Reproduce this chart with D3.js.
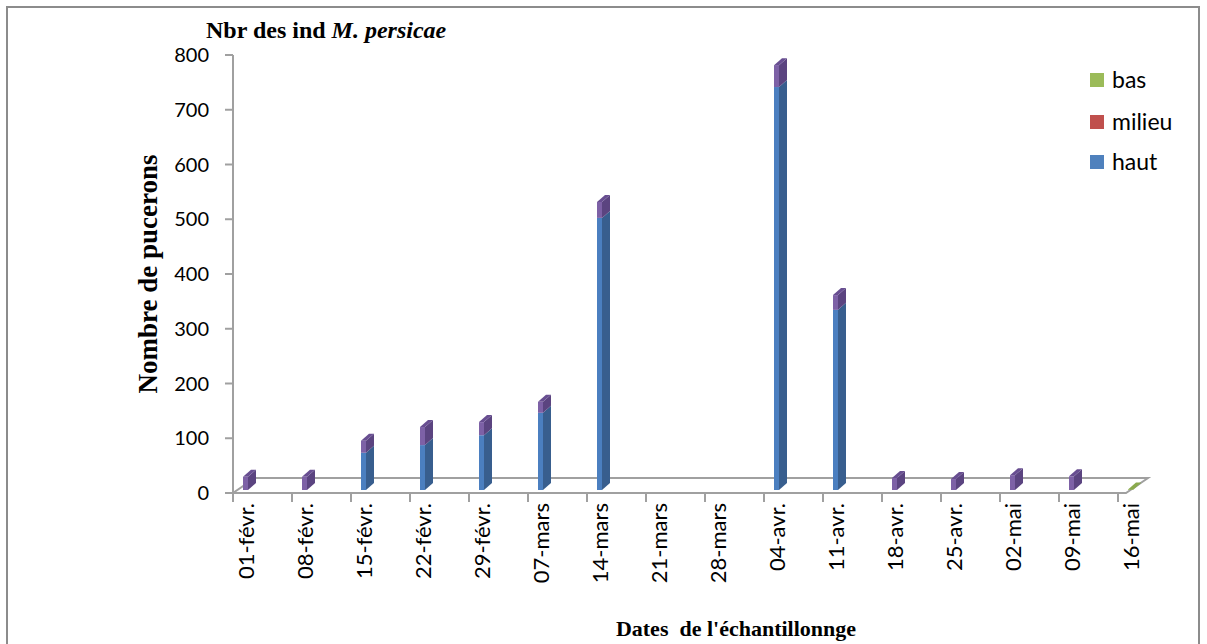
<!DOCTYPE html>
<html><head><meta charset="utf-8">
<script src="https://cdn.jsdelivr.net/npm/d3@7"></script>
<style>body{margin:0;background:#fff}svg{display:block}</style>
</head><body>
<svg id="c" width="1207" height="644"></svg>
<script>
const categories = ['01-févr.','08-févr.','15-févr.','22-févr.','29-févr.','07-mars','14-mars','21-mars','28-mars','04-avr.','11-avr.','18-avr.','25-avr.','02-mai','09-mai','16-mai'];
const haut   = [0, 0, 68, 82, 100, 141, 497, 0, 0, 736, 329, 0, 0, 0, 0, 0];
const milieu = [24, 24, 22, 33, 24, 20, 29, 0, 0, 40, 27, 22, 20, 27, 25, 0];
const bas    = [0, 0, 0, 0, 0, 0, 0, 0, 0, 0, 0, 0, 0, 0, 0, 1];
const yTicks = [0,100,200,300,400,500,600,700,800];
const seriesNames = ['bas','milieu','haut'];

const svg = d3.select('#c');
const legendColor = {bas:'#9BBB59', milieu:'#C0504D', haut:'#4F81BD'};
const face = {
  haut:   {front:'#4B7FC0', side:'#385E8E', top:'#4470A8'},
  milieu: {front:'#7D61A6', side:'#5B4480', top:'#684E91'},
  bas:    {front:'#9BBB59', side:'#7A9A40', top:'#8AAA4C'}
};

// outer border
svg.append('rect').attr('x',7).attr('y',7).attr('width',1192).attr('height',650)
  .attr('fill','#fff').attr('stroke','#8c8c8c').attr('stroke-width',2);

const y = d3.scaleLinear().domain([0,800]).range([493,55]);
const yb = d3.scaleLinear().domain([0,800]).range([490,52]);
const x = d3.scalePoint().domain(categories).range([243, 243+15*59]);
const depth = {dx:22, dy:-15};
const bw = 5, bdx = 8, bdy = -7;
const x0 = 233, x1 = 1126, y0 = y(0);

// floor
const g = svg.append('g');
g.append('path')
 .attr('d', `M${x0},${y0}L${x1},${y0}L${x1+depth.dx},${y0+depth.dy}L${x0+depth.dx},${y0+depth.dy}Z`)
 .attr('fill','none').attr('stroke','#a0a0a0').attr('stroke-width',2);

// bars
const stackData = categories.map((c,i)=>({cat:c, haut:haut[i], milieu:milieu[i], bas:bas[i]}));
const stack = d3.stack().keys(['haut','milieu','bas'])(stackData);
const bars = svg.append('g');
categories.forEach((c,i)=>{
  const segs = stack.map(s=>({key:s.key, lo:s[i][0], hi:s[i][1]})).filter(s=>s.hi>s.lo);
  segs.forEach((s,k)=>{
    const xl = x(c), xr = xl+bw;
    const yt = yb(s.hi), ybot = yb(s.lo);
    const f = face[s.key];
    bars.append('rect').attr('x',xl).attr('y',yt).attr('width',bw).attr('height',Math.max(0,ybot-yt)).attr('fill',f.front);
    bars.append('path').attr('d',`M${xr},${yt}L${xr+bdx},${yt+bdy}L${xr+bdx},${ybot+bdy}L${xr},${ybot}Z`).attr('fill',f.side);
    if(k===segs.length-1){
      bars.append('path').attr('d',`M${xl},${yt}L${xl+bdx},${yt+bdy}L${xr+bdx},${yt+bdy}L${xr},${yt}Z`).attr('fill',f.top);
    }
  });
});

// y axis
const ya = svg.append('g');
ya.append('line').attr('x1',x0).attr('x2',x0).attr('y1',y(800)).attr('y2',y0).attr('stroke','#a0a0a0').attr('stroke-width',2);
ya.selectAll('line.t').data(yTicks).enter().append('line').attr('class','t')
  .attr('x1',x0-8).attr('x2',x0).attr('y1',d=>y(d)).attr('y2',d=>y(d)).attr('stroke','#a0a0a0').attr('stroke-width',2);
ya.selectAll('text').data(yTicks).enter().append('text')
  .attr('x',209).attr('y',d=>y(d)).attr('dy','0.35em').attr('text-anchor','end')
  .style('font-family','Lato, sans-serif').style('font-size','20px').attr('fill','#000').text(d=>d);

// x axis ticks and labels
const xa = svg.append('g');
xa.selectAll('line').data(categories).enter().append('line')
  .attr('x1',d=>x(d)-10).attr('x2',d=>x(d)-10).attr('y1',y0).attr('y2',y0+9).attr('stroke','#a0a0a0').attr('stroke-width',2);
xa.selectAll('text').data(categories).enter().append('text')
  .attr('transform',d=>`translate(${x(d)+3},503) rotate(-90)`)
  .attr('text-anchor','end').attr('dy','0.35em')
  .style('font-family','Lato, sans-serif').style('font-size','22px').attr('fill','#000').text(d=>d);

// titles
const serif = '"Liberation Serif", "Times New Roman", serif';
const t = svg.append('text').attr('x',206).attr('y',38).style('font-family',serif).style('font-size','24px').style('font-weight','bold');
t.append('tspan').text('Nbr des ind ');
t.append('tspan').style('font-style','italic').text('M. persicae');
svg.append('text').attr('transform','translate(157,274) rotate(-90)').attr('text-anchor','middle')
  .style('font-family',serif).style('font-size','27px').style('font-weight','bold').text('Nombre de pucerons');
svg.append('text').attr('x',736).attr('y',636).attr('text-anchor','middle').attr('xml:space','preserve')
  .style('font-family',serif).style('font-size','22px').style('font-weight','bold').text('Dates  de l\'échantillonnge');

// legend
const lg = svg.append('g');
const ly = [80,122,162];
seriesNames.forEach((s,i)=>{
  lg.append('rect').attr('x',1090).attr('y',ly[i]-7).attr('width',14).attr('height',14).attr('fill',legendColor[s]);
  lg.append('text').attr('x',1112).attr('y',ly[i]).attr('dy','0.35em')
    .style('font-family','Lato, sans-serif').style('font-size','23px').text(s);
});
</script>
</body></html>
